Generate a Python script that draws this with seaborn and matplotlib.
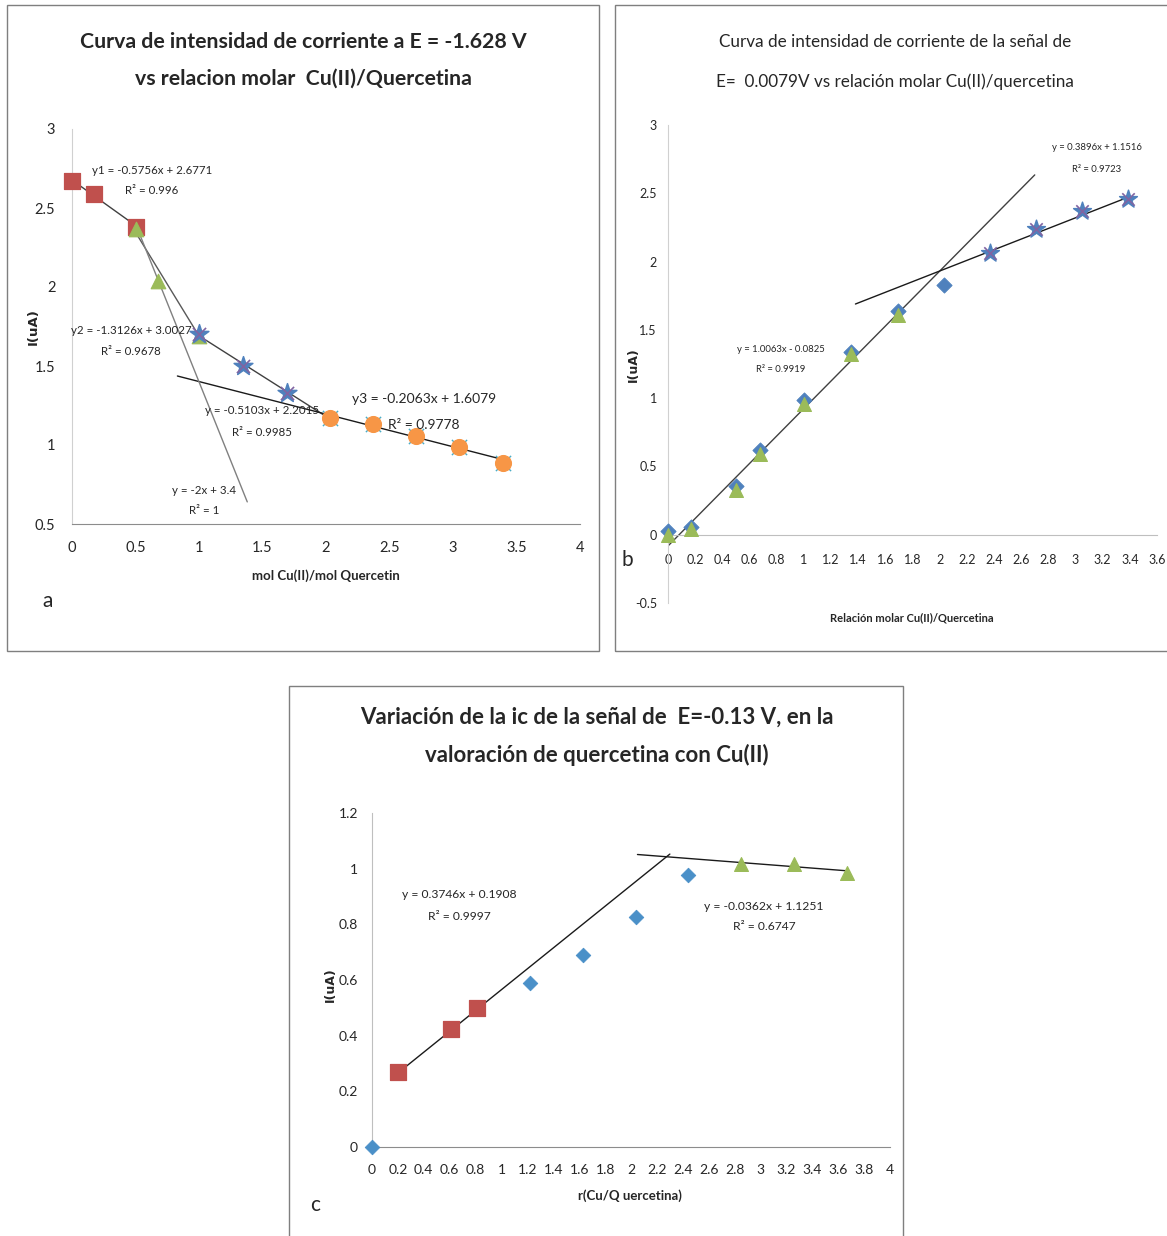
import matplotlib
matplotlib.use("Agg")
import matplotlib.pyplot as plt
import seaborn as sns
from matplotlib.patches import Rectangle

W, H = 1167, 1236

# ---- panel a: I at E = -1.628 V ----
a_sq_x = [0.0, 0.17, 0.5]
a_sq_y = [2.67, 2.59, 2.38]
a_tri_x = [0.5, 0.68, 1.0]
a_tri_y = [2.37, 2.04, 1.69]
a_star_x = [1.0, 1.35, 1.69]
a_star_y = [1.70, 1.50, 1.33]
a_circ_x = [2.03, 2.37, 2.71, 3.05, 3.39]
a_circ_y = [1.17, 1.13, 1.06, 0.99, 0.886]
# trendlines: slope, intercept, x range
a_slope = [-0.5756, -1.3126, -0.5103, -0.2063, -2.0]
a_icpt = [2.6771, 3.0027, 2.2015, 1.6079, 3.4]
a_x0 = [0.0, 0.5, 1.0, 0.83, 0.5]
a_x1 = [0.5, 1.0, 2.03, 3.39, 1.38]
a_lcol = ["#404040", "#595959", "#404040", "#1a1a1a", "#808080"]

# ---- panel b: I at E = 0.0079 V ----
b_tri_x = [0.0, 0.17, 0.5, 0.68, 1.0, 1.35, 1.69]
b_tri_y = [0.0, 0.04, 0.33, 0.59, 0.96, 1.32, 1.61]
b_dia_x = [0.0, 0.17, 0.5, 0.68, 1.0, 1.35, 1.69, 2.03]
b_dia_y = [0.03, 0.06, 0.36, 0.62, 0.99, 1.34, 1.64, 1.83]
b_star_x = [2.37, 2.71, 3.05, 3.39]
b_star_y = [2.06, 2.24, 2.37, 2.46]
b_slope = [1.0063, 0.3896]
b_icpt = [-0.0825, 1.1516]
b_x0 = [0.0, 1.38]
b_x1 = [2.7, 3.39]
b_lcol = ["#404040", "#1a1a1a"]

# ---- panel c: ic at E = -0.13 V ----
c_dia_x = [0.0, 1.22, 1.63, 2.04, 2.44]
c_dia_y = [0.0, 0.59, 0.69, 0.826, 0.977]
c_sq_x = [0.2, 0.61, 0.81]
c_sq_y = [0.27, 0.424, 0.50]
c_tri_x = [2.85, 3.26, 3.67]
c_tri_y = [1.017, 1.017, 0.985]
c_slope = [0.3746, -0.0362]
c_icpt = [0.1908, 1.1251]
c_x0 = [0.2, 2.05]
c_x1 = [2.3, 3.67]

sns.set_style("white")
plt.rcParams["font.family"] = ["Lato", "DejaVu Sans"]

fig = plt.figure(figsize=(W / 100, H / 100), dpi=100)


def px_axes(l, t, r, b):
    return fig.add_axes([l / W, 1 - b / H, (r - l) / W, (b - t) / H])


def ftext(x, y, s, **kw):
    fig.text(x / W, 1 - y / H, s, ha="center", va="center", **kw)


def box(l, t, r, b):
    fig.patches.append(Rectangle((l / W, 1 - b / H), (r - l) / W, (b - t) / H,
                                 transform=fig.transFigure, fill=False,
                                 edgecolor="#7f7f7f", lw=1))


def trend(ax, m, q, x0, x1, col, lw=1.0):
    sns.lineplot(x=[x0, x1], y=[m * x0 + q, m * x1 + q], ax=ax, color=col, lw=lw)


def pts(ax, x, y, marker, s, col, z=3, **kw):
    sns.scatterplot(x=x, y=y, marker=marker, s=s, color=col, edgecolor=col,
                    ax=ax, zorder=z, clip_on=False, **kw)


box(7, 5, 599, 651)
box(615, 5, 1170, 651)
box(289, 686, 903, 1240)

RED, GREEN, BLUE, ORANGE, PURPLE, CYAN = "#C0504D", "#9BBB59", "#4F81BD", "#F79646", "#8064A2", "#4BACC6"

# ================= panel a =================
ax = px_axes(72, 129, 580, 524)
for m, q, x0, x1, c in zip(a_slope, a_icpt, a_x0, a_x1, a_lcol):
    trend(ax, m, q, x0, x1, c)
pts(ax, a_sq_x, a_sq_y, "s", 120, RED)
pts(ax, a_tri_x, a_tri_y, "^", 110, GREEN)
pts(ax, a_star_x, a_star_y, "*", 200, BLUE, z=4)
pts(ax, a_star_x, a_star_y, "x", 90, PURPLE, z=4, linewidth=1.2)
pts(ax, a_circ_x, a_circ_y, "x", 120, CYAN, linewidth=1)
pts(ax, a_circ_x, a_circ_y, "o", 130, ORANGE, z=4)
ax.set_xlim(0, 4)
ax.set_ylim(0.5, 3)
ax.set_xticks([0, 0.5, 1, 1.5, 2, 2.5, 3, 3.5, 4])
ax.set_xticklabels(["0", "0.5", "1", "1.5", "2", "2.5", "3", "3.5", "4"])
ax.set_yticks([0.5, 1, 1.5, 2, 2.5, 3])
ax.set_yticklabels(["0.5", "1", "1.5", "2", "2.5", "3"])
ax.tick_params(labelsize=10.5, length=0, pad=12)
for s in ["top", "right"]:
    ax.spines[s].set_visible(False)
ax.spines["left"].set_color("#D0D0D0")
ax.spines["bottom"].set_color("#8c8c8c")
ax.set_xlabel("")
ax.set_ylabel("")
ax.patch.set_alpha(0)

ftext(303, 42, "Curva de intensidad de corriente a E = -1.628 V", fontsize=15.3, fontweight="bold")
ftext(303, 79, "vs relacion molar  Cu(II)/Quercetina", fontsize=15.3, fontweight="bold")
ftext(33, 327, "I(uA)", fontsize=9.5, fontweight="bold", rotation=90, family="DejaVu Sans")
ftext(326, 576, "mol Cu(II)/mol Quercetin", fontsize=9.5, fontweight="bold")
ftext(48, 601, "a", fontsize=15)
ftext(152, 170, "y1 = -0.5756x + 2.6771", fontsize=8.3)
ftext(152, 190, "R² = 0.996", fontsize=8.3)
ftext(131, 330, "y2 = -1.3126x + 3.0027", fontsize=8.3)
ftext(131, 352, "R² = 0.9678", fontsize=8.3)
ftext(262, 410, "y = -0.5103x + 2.2015", fontsize=8.3)
ftext(262, 432, "R² = 0.9985", fontsize=8.3)
ftext(424, 399, "y3 = -0.2063x + 1.6079", fontsize=10)
ftext(424, 425, "R² = 0.9778", fontsize=10)
ftext(204, 490, "y = -2x + 3.4", fontsize=8.3)
ftext(204, 511, "R² = 1", fontsize=8.3)

# ================= panel b =================
ax = px_axes(668, 125, 1157, 603)
for m, q, x0, x1, c in zip(b_slope, b_icpt, b_x0, b_x1, b_lcol):
    trend(ax, m, q, x0, x1, c)
pts(ax, b_dia_x, b_dia_y, "D", 60, BLUE)
pts(ax, b_tri_x, b_tri_y, "^", 100, GREEN, z=4)
pts(ax, b_star_x, b_star_y, "*", 180, BLUE, z=4)
pts(ax, b_star_x, b_star_y, "x", 80, PURPLE, z=4, linewidth=1.2)
ax.set_xlim(0, 3.6)
ax.set_ylim(-0.5, 3)
bx = [0, 0.2, 0.4, 0.6, 0.8, 1, 1.2, 1.4, 1.6, 1.8, 2, 2.2, 2.4, 2.6, 2.8, 3, 3.2, 3.4, 3.6]
ax.set_xticks(bx)
ax.set_xticklabels(["0", "0.2", "0.4", "0.6", "0.8", "1", "1.2", "1.4", "1.6", "1.8", "2",
                    "2.2", "2.4", "2.6", "2.8", "3", "3.2", "3.4", "3.6"])
ax.set_yticks([-0.5, 0, 0.5, 1, 1.5, 2, 2.5, 3])
ax.set_yticklabels(["-0.5", "0", "0.5", "1", "1.5", "2", "2.5", "3"])
ax.tick_params(labelsize=9, length=0)
ax.tick_params(axis="x", pad=14)
ax.tick_params(axis="y", pad=8)
for s in ["top", "right"]:
    ax.spines[s].set_visible(False)
ax.spines["bottom"].set_position(("data", 0))
ax.spines["left"].set_color("#D0D0D0")
ax.spines["bottom"].set_color("#BFBFBF")
ax.set_xlabel("")
ax.set_ylabel("")
ax.patch.set_alpha(0)

ftext(895, 42, "Curva de intensidad de corriente de la señal de", fontsize=12.3)
ftext(895, 82, "E=  0.0079V vs relación molar Cu(II)/quercetina", fontsize=12.3)
ftext(633, 365, "I(uA)", fontsize=9, fontweight="bold", rotation=90, family="DejaVu Sans")
ftext(912, 618, "Relación molar Cu(II)/Quercetina", fontsize=8, fontweight="bold")
ftext(627, 560, "b", fontsize=15)
ftext(781, 349, "y = 1.0063x - 0.0825", fontsize=6.8)
ftext(781, 370, "R² = 0.9919", fontsize=6.8)
ftext(1097, 148, "y = 0.3896x + 1.1516", fontsize=6.8)
ftext(1097, 170, "R² = 0.9723", fontsize=6.8)

# ================= panel c =================
ax = px_axes(372, 813, 890, 1147)
for m, q, x0, x1 in zip(c_slope, c_icpt, c_x0, c_x1):
    trend(ax, m, q, x0, x1, "#1a1a1a")
pts(ax, c_dia_x, c_dia_y, "D", 55, "#4A90C8")
pts(ax, c_sq_x, c_sq_y, "s", 120, RED)
pts(ax, c_tri_x, c_tri_y, "^", 100, GREEN)
ax.set_xlim(0, 4)
ax.set_ylim(0, 1.2)
cx = [0, 0.2, 0.4, 0.6, 0.8, 1, 1.2, 1.4, 1.6, 1.8, 2, 2.2, 2.4, 2.6, 2.8, 3, 3.2, 3.4, 3.6, 3.8, 4]
ax.set_xticks(cx)
ax.set_xticklabels(["0", "0.2", "0.4", "0.6", "0.8", "1", "1.2", "1.4", "1.6", "1.8", "2",
                    "2.2", "2.4", "2.6", "2.8", "3", "3.2", "3.4", "3.6", "3.8", "4"])
ax.set_yticks([0, 0.2, 0.4, 0.6, 0.8, 1, 1.2])
ax.set_yticklabels(["0", "0.2", "0.4", "0.6", "0.8", "1", "1.2"])
ax.tick_params(labelsize=10, length=0)
ax.tick_params(axis="x", pad=12)
ax.tick_params(axis="y", pad=10)
for s in ["top", "right"]:
    ax.spines[s].set_visible(False)
ax.spines["left"].set_color("#BFBFBF")
ax.spines["bottom"].set_color("#8c8c8c")
ax.set_xlabel("")
ax.set_ylabel("")
ax.patch.set_alpha(0)

ftext(597, 717, "Variación de la ic de la señal de  E=-0.13 V, en la", fontsize=16, fontweight="bold")
ftext(597, 755, "valoración de quercetina con Cu(II)", fontsize=16, fontweight="bold")
ftext(330, 985, "I(uA)", fontsize=9, fontweight="bold", rotation=90, family="DejaVu Sans")
ftext(630, 1196, "r(Cu/Q uercetina)", fontsize=9.5, fontweight="bold")
ftext(315, 1205, "c", fontsize=15)
ftext(459, 895, "y = 0.3746x + 0.1908", fontsize=8.7)
ftext(459, 916, "R² = 0.9997", fontsize=8.7)
ftext(764, 907, "y = -0.0362x + 1.1251", fontsize=8.7)
ftext(764, 927, "R² = 0.6747", fontsize=8.7)

plt.savefig("out.png", dpi=100)
